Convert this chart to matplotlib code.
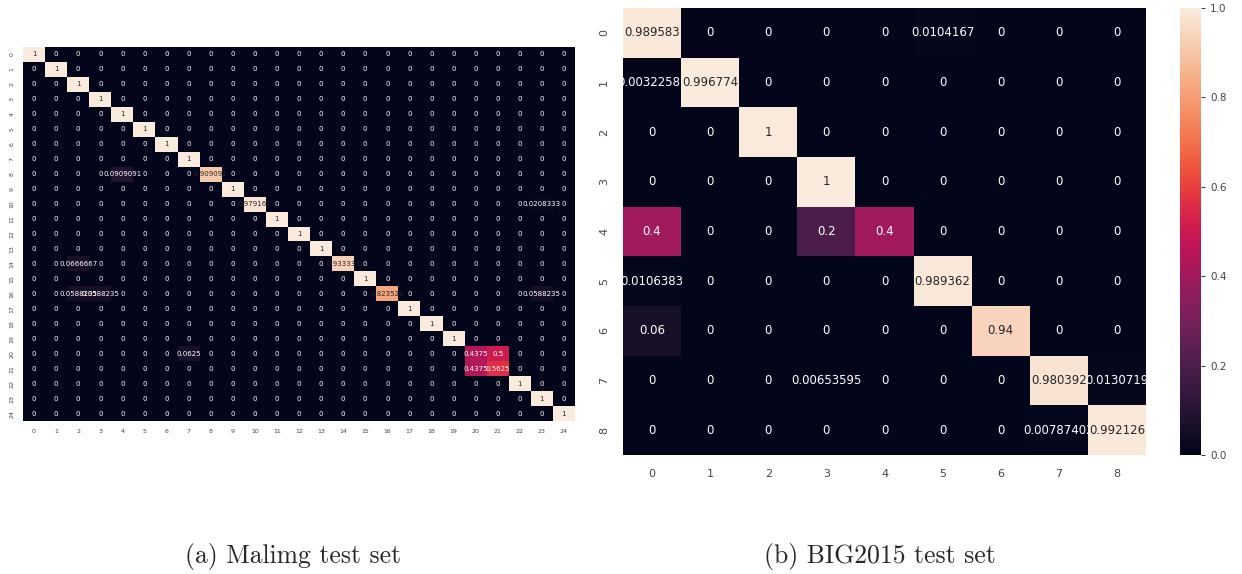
import numpy as np
import matplotlib
matplotlib.use("Agg")
import matplotlib.pyplot as plt
import seaborn as sns

# Malimg confusion matrix (25 classes), off-diagonal / non-1 entries
MAL_N = 25
MAL_CELLS = [
    (8, 4, 0.0909091), (8, 8, 0.909091),
    (10, 10, 0.979167), (10, 23, 0.0208333),
    (14, 2, 0.0666667), (14, 14, 0.933333),
    (16, 2, 0.0588235), (16, 3, 0.0588235), (16, 16, 0.823529), (16, 23, 0.0588235),
    (20, 7, 0.0625), (20, 20, 0.4375), (20, 21, 0.5),
    (21, 20, 0.4375), (21, 21, 0.5625),
]

# BIG2015 confusion matrix (9 classes)
BIG_ROW0 = [0.989583, 0, 0, 0, 0, 0.0104167, 0, 0, 0]
BIG_ROW1 = [0.00322581, 0.996774, 0, 0, 0, 0, 0, 0, 0]
BIG_ROW2 = [0, 0, 1, 0, 0, 0, 0, 0, 0]
BIG_ROW3 = [0, 0, 0, 1, 0, 0, 0, 0, 0]
BIG_ROW4 = [0.4, 0, 0, 0.2, 0.4, 0, 0, 0, 0]
BIG_ROW5 = [0.0106383, 0, 0, 0, 0, 0.989362, 0, 0, 0]
BIG_ROW6 = [0.06, 0, 0, 0, 0, 0, 0.94, 0, 0]
BIG_ROW7 = [0, 0, 0, 0.00653595, 0, 0, 0, 0.980392, 0.0130719]
BIG_ROW8 = [0, 0, 0, 0, 0, 0, 0, 0.00787402, 0.992126]

CAPTION_A = "(a) Malimg test set"
CAPTION_B = "(b) BIG2015 test set"

mal = np.eye(MAL_N)
for r, c, v in MAL_CELLS:
    mal[r, c] = v
big = np.array([BIG_ROW0, BIG_ROW1, BIG_ROW2, BIG_ROW3, BIG_ROW4,
                BIG_ROW5, BIG_ROW6, BIG_ROW7, BIG_ROW8])

sns.set_style("white")
plt.rcParams["font.family"] = ["DejaVu Sans"]
TICK_C = "#444444"

W, H = 1242, 574
fig = plt.figure(figsize=(W / 100, H / 100), dpi=100)

def box(x0, y0, x1, y1):
    return [x0 / W, 1 - y1 / H, (x1 - x0) / W, (y1 - y0) / H]

ax1 = fig.add_axes(box(23, 47, 575, 421))
ax2 = fig.add_axes(box(623, 8, 1146, 455))
cax = fig.add_axes(box(1180, 8, 1201, 455))

sns.heatmap(mal, ax=ax1, cmap="rocket", vmin=0, vmax=1, annot=True, fmt="g",
            cbar=False, annot_kws={"fontsize": 5})
ax1.tick_params(axis="both", length=0, labelsize=4.5, colors=TICK_C, pad=6)
for t in ax1.get_yticklabels():
    t.set_rotation(90)
    t.set_va("center")

sns.heatmap(big, ax=ax2, cmap="rocket", vmin=0, vmax=1, annot=True, fmt="g",
            cbar_ax=cax, annot_kws={"fontsize": 8.5})
ax2.tick_params(axis="both", length=0, labelsize=8, colors=TICK_C, pad=10)
for t in ax2.get_yticklabels():
    t.set_rotation(90)
    t.set_va("center")

cax.tick_params(labelsize=7.5, colors=TICK_C, length=3, width=0.8)
cax.set_yticks([0.0, 0.2, 0.4, 0.6, 0.8, 1.0])

fig.text(293 / W, 1 - 557 / H, CAPTION_A, ha="center", va="center",
         fontsize=18.5, family="cmr10")
fig.text(880 / W, 1 - 557 / H, CAPTION_B, ha="center", va="center",
         fontsize=18.5, family="cmr10")

fig.savefig("out.png", dpi=100)
